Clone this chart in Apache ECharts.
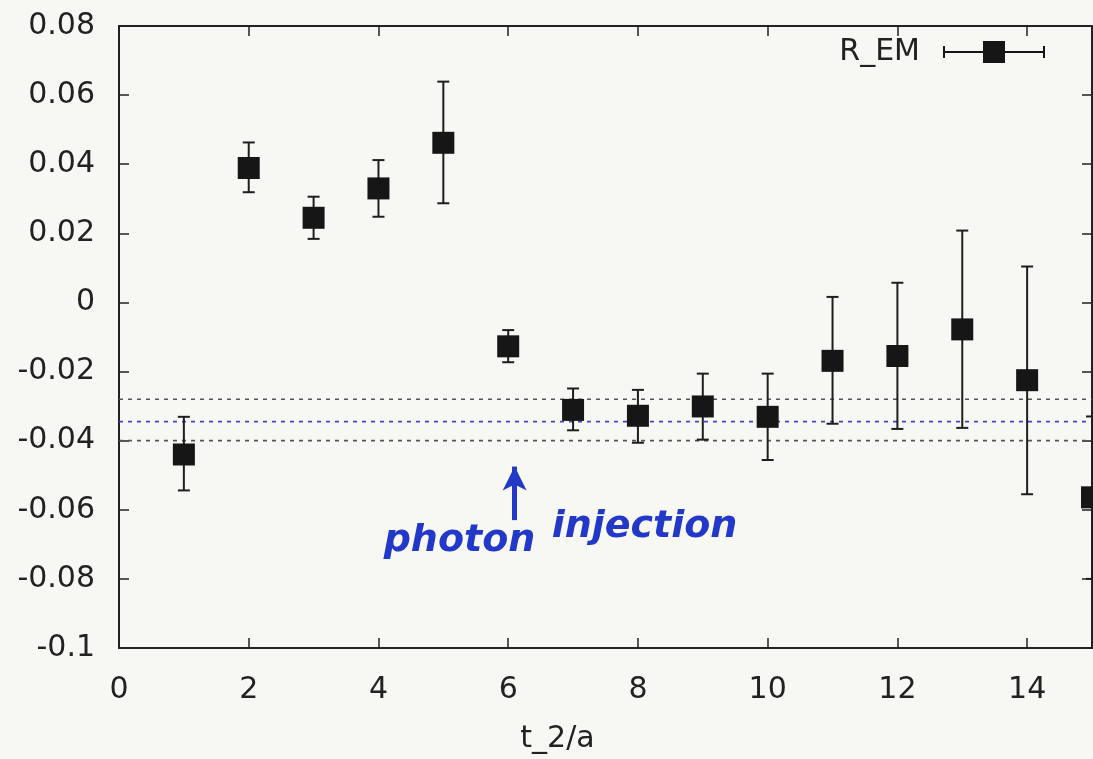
<!DOCTYPE html>
<html>
<head>
<meta charset="utf-8">
<script src="https://cdn.jsdelivr.net/npm/echarts@6/dist/echarts.min.js"></script>
<style>
  html, body { margin: 0; padding: 0; background: #f7f7f3; }
  #chart { width: 1093px; height: 759px; }
</style>
</head>
<body>
<div id="chart"></div>
<script>
// Time slice t_2/a of each measurement
const tValues = [1, 2, 3, 4, 5, 6, 7, 8, 9, 10, 11, 12, 13, 14, 15];
// Central value of R_EM per time slice
const rValues = [-0.0440, 0.0389, 0.0245, 0.0330, 0.0462, -0.0127, -0.0311, -0.0328,
                 -0.0301, -0.0331, -0.0169, -0.0155, -0.0078, -0.0225, -0.0564];
// Upper and lower ends of the error bars
const rUpper = [-0.0331, 0.0463, 0.0306, 0.0412, 0.0639, -0.0080, -0.0249, -0.0253,
                -0.0206, -0.0206, 0.0016, 0.0057, 0.0208, 0.0104, -0.0330];
const rLower = [-0.0544, 0.0319, 0.0184, 0.0248, 0.0287, -0.0173, -0.0370, -0.0406,
                -0.0397, -0.0456, -0.0351, -0.0366, -0.0363, -0.0555, -0.0800];
// Plateau fit: central value and its band
const fitCentral = -0.0345;
const fitUpper = -0.0280;
const fitLower = -0.0400;
// Axis ranges and tick steps
const xTicks = { min: 0, max: 15, interval: 2 };
const yTicks = { min: -0.1, max: 0.08, interval: 0.02 };
// Hand-written annotation
const injectionSlice = 6.1;
const noteWords = ['photon', 'injection'];

const FONT = 'DejaVu Sans';
const INK = '#222222';
const PEN = '#2238c9';

const chart = echarts.init(document.getElementById('chart'), null, { renderer: 'canvas' });

const points = tValues.map((t, i) => [t, rValues[i]]);
const bars = tValues.map((t, i) => [t, rLower[i], rUpper[i]]);
const xRange = [xTicks.min, xTicks.max];

// Horizontal error bar with a filled square, used as the legend key
const legendIcon = 'path://M0,10L102,10L102,12L0,12Z M0,5L2,5L2,17L0,17Z M100,5L102,5L102,17L100,17Z M40,0L62,0L62,22L40,22Z';

function fmtY(v) {
  const r = Math.round(v * 100) / 100;
  return r === 0 ? '0' : String(r);
}

const tickStyle = { inside: true, length: 10, lineStyle: { color: INK, width: 1.5 } };

function fitLine(name, value, color) {
  return {
    type: 'line', name: name, silent: true, z: 2,
    data: xRange.map(x => [x, value]),
    symbol: 'none',
    lineStyle: { color: color, width: 1.6, type: [4, 5] }
  };
}

const option = {
  backgroundColor: '#f7f7f3',
  animation: false,
  grid: { left: 119, right: 1, top: 26, bottom: 108, containLabel: false },
  legend: {
    data: [{ name: 'R_EM', icon: legendIcon }],
    right: 43, top: 32,
    align: 'right',
    itemWidth: 102, itemHeight: 22,
    textStyle: { fontFamily: FONT, fontSize: 30, color: INK, padding: [0, 18, 0, 0] }
  },
  xAxis: [{
    type: 'value', min: xTicks.min, max: xTicks.max, interval: xTicks.interval,
    name: 't_2/a', nameLocation: 'middle', nameGap: 76,
    nameTextStyle: { fontFamily: FONT, fontSize: 30, color: INK, padding: [0, 96, 0, 0] },
    axisLine: { show: true, onZero: false, lineStyle: { color: INK, width: 2 } },
    axisTick: tickStyle,
    axisLabel: { fontFamily: FONT, fontSize: 30, color: INK, margin: 27, showMaxLabel: false },
    splitLine: { show: false }
  }, {
    type: 'value', position: 'top', min: xTicks.min, max: xTicks.max, interval: xTicks.interval,
    axisLine: { show: true, onZero: false, lineStyle: { color: INK, width: 2 } },
    axisTick: tickStyle, axisLabel: { show: false }, splitLine: { show: false }
  }],
  yAxis: [{
    type: 'value', min: yTicks.min, max: yTicks.max, interval: yTicks.interval,
    axisLine: { show: true, onZero: false, lineStyle: { color: INK, width: 2 } },
    axisTick: tickStyle,
    axisLabel: { fontFamily: FONT, fontSize: 30, color: INK, margin: 24, formatter: fmtY },
    splitLine: { show: false }
  }, {
    type: 'value', position: 'right', min: yTicks.min, max: yTicks.max, interval: yTicks.interval,
    axisLine: { show: true, onZero: false, lineStyle: { color: INK, width: 2 } },
    axisTick: tickStyle, axisLabel: { show: false }, splitLine: { show: false }
  }],
  series: [
    fitLine('fit upper', fitUpper, '#555555'),
    fitLine('fit', fitCentral, '#4646c8'),
    fitLine('fit lower', fitLower, '#555555'),
    {
      type: 'custom',
      name: 'R_EM bars',
      data: bars,
      z: 3,
      renderItem: function (params, api) {
        const x = api.value(0);
        const lo = api.coord([x, api.value(1)]);
        const hi = api.coord([x, api.value(2)]);
        const cap = 6;
        const style = { stroke: '#1e1e1e', lineWidth: 2 };
        return {
          type: 'group',
          children: [
            { type: 'line', shape: { x1: lo[0], y1: lo[1], x2: hi[0], y2: hi[1] }, style },
            { type: 'line', shape: { x1: lo[0] - cap, y1: lo[1], x2: lo[0] + cap, y2: lo[1] }, style },
            { type: 'line', shape: { x1: hi[0] - cap, y1: hi[1], x2: hi[0] + cap, y2: hi[1] }, style }
          ]
        };
      },
      // arrow marking the injection slice
      markLine: {
        silent: true, animation: false,
        label: { show: false },
        data: [[
          { coord: [injectionSlice, -0.0630], symbol: 'none' },
          { coord: [injectionSlice, -0.0475], symbol: 'arrow', symbolSize: [18, 24] }
        ]],
        lineStyle: { color: PEN, type: 'solid', width: 5 }
      }
    },
    {
      type: 'scatter',
      name: 'R_EM',
      data: points,
      symbol: 'rect',
      symbolSize: 22,
      z: 4,
      itemStyle: { color: '#161616', opacity: 1 }
    }
  ]
};

chart.setOption(option);

// Hand-written note placed under the fit band
const pPhoton = chart.convertToPixel({ gridIndex: 0 }, [4.08, -0.0745]);
const pInject = chart.convertToPixel({ gridIndex: 0 }, [6.67, -0.0705]);
chart.setOption({
  graphic: [
    { type: 'text', x: pPhoton[0], y: pPhoton[1], silent: true,
      style: { text: noteWords[0], fill: PEN, font: 'italic bold 38px "DejaVu Sans"',
               textAlign: 'left', textVerticalAlign: 'bottom' } },
    { type: 'text', x: pInject[0], y: pInject[1], silent: true,
      style: { text: noteWords[1], fill: PEN, font: 'italic bold 38px "DejaVu Sans"',
               textAlign: 'left', textVerticalAlign: 'bottom' } }
  ]
});
</script>
</body>
</html>
